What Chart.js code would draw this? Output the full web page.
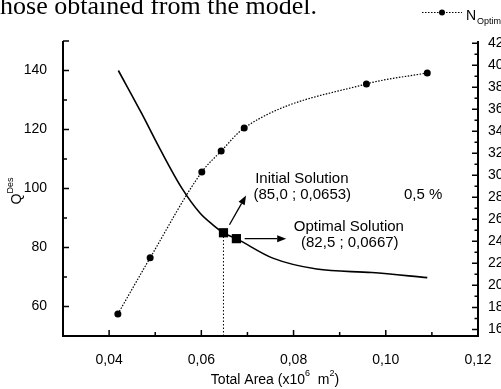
<!DOCTYPE html>
<html>
<head>
<meta charset="utf-8">
<script src="https://cdn.jsdelivr.net/npm/chart.js@4"></script>
<style>
  html, body { margin: 0; padding: 0; background: #fff; }
  #wrap { position: relative; width: 501px; height: 389px; }
</style>
</head>
<body>
<div id="wrap"><canvas id="chart"></canvas></div>
<script>
// ─── DATA ───────────────────────────────────────────────────────────
// Q^Des vs total area (left axis, solid curve)
const qArea = [0.042, 0.047, 0.051, 0.0557, 0.0597, 0.0625, 0.0648, 0.0676, 0.0755, 0.085, 0.097, 0.109];
const qDes  = [140, 125.6, 113.5, 100.3, 91.7, 87.7, 85.0, 83.0, 76.4, 72.7, 71.5, 69.8];

// N_Optim vs total area (right axis, dotted curve with dots)
const nArea  = [0.0419, 0.0489, 0.0601, 0.0643, 0.0693, 0.0958, 0.109];
const nOptim = [17.4, 22.5, 30.3, 32.2, 34.3, 38.3, 39.3];

// initial / optimal solution markers
const solArea = [0.0648, 0.0676];
const solQ    = [85.0, 83.0];

// ticks
const xTicks  = [0.03, 0.04, 0.05, 0.06, 0.07, 0.08, 0.09, 0.10, 0.11, 0.12];
const xLabels = ['', '0,04', '', '0,06', '', '0,08', '', '0,10', '', '0,12'];
const qTicks  = [50, 60, 70, 80, 90, 100, 110, 120, 130, 140, 150];
const qLabels = ['', '60', '', '80', '', '100', '', '120', '', '140', ''];
const nTicks  = [16, 17, 18, 19, 20, 21, 22, 23, 24, 25, 26, 27, 28, 29, 30, 31, 32, 33, 34, 35, 36, 37, 38, 39, 40, 41, 42];
const nLabels = nTicks.map(v => v % 2 === 0 ? String(v) : '');

const FONT = "'Liberation Sans', Arial, sans-serif";

const setTicks = (vals) => (s) => { s.ticks = vals.map(v => ({ value: v })); };
const labelFor = (vals, labels) => (v) => { const i = vals.findIndex(t => Math.abs(t - v) < 1e-9); return i >= 0 ? labels[i] : ''; };

function arrow(ctx, x0, y0, x1, y1) {
  const ang = Math.atan2(y1 - y0, x1 - x0), hl = 9, hw = 3.5;
  ctx.beginPath(); ctx.moveTo(x0, y0);
  ctx.lineTo(x1 - hl * Math.cos(ang), y1 - hl * Math.sin(ang)); ctx.stroke();
  ctx.beginPath(); ctx.moveTo(x1, y1);
  ctx.lineTo(x1 - hl * Math.cos(ang) + hw * Math.sin(ang), y1 - hl * Math.sin(ang) - hw * Math.cos(ang));
  ctx.lineTo(x1 - hl * Math.cos(ang) - hw * Math.sin(ang), y1 - hl * Math.sin(ang) + hw * Math.cos(ang));
  ctx.closePath(); ctx.fill();
}

// draws text pieces in a row; pieces: [text, size, dy]
function richText(ctx, pieces, cx, cy) {
  let w = 0;
  pieces.forEach(p => { ctx.font = p[1] + 'px ' + FONT; w += ctx.measureText(p[0]).width; });
  let xx = cx - w / 2;
  ctx.textAlign = 'left'; ctx.textBaseline = 'middle';
  pieces.forEach(p => { ctx.font = p[1] + 'px ' + FONT; ctx.fillText(p[0], xx, cy + p[2]); xx += ctx.measureText(p[0]).width; });
}

const extras = {
  id: 'extras',
  afterDraw(chart) {
    const { ctx, chartArea: a, scales } = chart;
    const sx = scales.x, sy = scales.y, sr = scales.y1;
    const X = v => sx.getPixelForValue(v), Y = v => sy.getPixelForValue(v);
    ctx.save();
    ctx.strokeStyle = '#000'; ctx.fillStyle = '#000';

    // axis lines (no top frame)
    ctx.lineWidth = 2;
    ctx.beginPath();
    ctx.moveTo(a.left, a.top); ctx.lineTo(a.left, a.bottom);
    ctx.lineTo(a.right, a.bottom); ctx.lineTo(a.right, a.top);
    ctx.stroke();

    // inward ticks, longer at labelled values
    ctx.lineWidth = 1.5;
    ctx.beginPath();
    xTicks.forEach((v, i) => { const p = X(v), l = xLabels[i] ? 6 : 4; ctx.moveTo(p, a.bottom); ctx.lineTo(p, a.bottom - l); });
    qTicks.forEach((v, i) => { const p = Y(v), l = qLabels[i] || v === 150 ? 6 : 4; ctx.moveTo(a.left, p); ctx.lineTo(a.left + l, p); });
    nTicks.forEach((v, i) => { const p = sr.getPixelForValue(v), l = nLabels[i] ? 6 : 3.5; ctx.moveTo(a.right, p); ctx.lineTo(a.right - l, p); });
    ctx.stroke();

    // axis titles
    richText(ctx, [['Total Area (x10', 14, 0], ['6', 9, -6], ['  m', 14, 0], ['2', 9, -6], [')', 14, 0]], 275, 380);
    ctx.save();
    ctx.translate(17, 191); ctx.rotate(-Math.PI / 2);
    richText(ctx, [['Q', 14, 0], ['Des', 9, -6]], 0, 0);
    ctx.restore();

    // annotations
    ctx.lineWidth = 1.3;
    arrow(ctx, X(0.0661), Y(87.7), X(0.0697), Y(97.6));
    arrow(ctx, X(0.0694), Y(83.0), X(0.0784), Y(83.0));
    ctx.font = '15px ' + FONT; ctx.textAlign = 'center'; ctx.textBaseline = 'middle';
    ctx.fillText('Initial Solution', X(0.0818), Y(103.3));
    ctx.fillText('(85,0 ; 0,0653)', X(0.0819), Y(97.9));
    ctx.fillText('Optimal Solution', X(0.0920), Y(87.1));
    ctx.fillText('(82,5 ; 0,0667)', X(0.0922), Y(81.5));
    ctx.fillText('0,5 %', X(0.1081), Y(97.9));

    // legend (top right, cut by the edge)
    ctx.lineWidth = 1; ctx.setLineDash([1.5, 1.5]);
    ctx.beginPath(); ctx.moveTo(422, 12.5); ctx.lineTo(462, 12.5); ctx.stroke();
    ctx.setLineDash([]);
    ctx.beginPath(); ctx.arc(442, 12.5, 3, 0, Math.PI * 2); ctx.fill();
    ctx.textAlign = 'left'; ctx.textBaseline = 'alphabetic';
    ctx.font = '14px ' + FONT; ctx.fillText('N', 466, 19.5);
    ctx.font = '9px ' + FONT; ctx.fillText('Optim', 477, 24);

    // caption fragment above the figure
    ctx.font = "26px 'Liberation Serif', 'Times New Roman', serif";
    ctx.textAlign = 'right';
    ctx.fillText('hose obtained from the model.', 317, 13.5);
    ctx.restore();
  }
};

new Chart(document.getElementById('chart'), {
  type: 'line',
  data: {
    datasets: [
      {
        label: 'Q Des',
        data: qArea.map((x, i) => ({ x, y: qDes[i] })),
        yAxisID: 'y',
        borderColor: '#000', borderWidth: 1.6,
        pointRadius: 0, cubicInterpolationMode: 'monotone'
      },
      {
        label: 'N Optim',
        data: nArea.map((x, i) => ({ x, y: nOptim[i] })),
        yAxisID: 'y1',
        borderColor: '#000', borderWidth: 1.2, borderDash: [1.5, 1.5],
        pointRadius: 3.5, pointBackgroundColor: '#000', pointBorderWidth: 0,
        cubicInterpolationMode: 'monotone'
      },
      {
        label: 'Solutions',
        data: solArea.map((x, i) => ({ x, y: solQ[i] })),
        yAxisID: 'y',
        showLine: false,
        pointStyle: 'rect', pointRadius: 6.5,
        pointBackgroundColor: '#000', pointBorderColor: '#000', pointBorderWidth: 0
      },
      {
        label: 'drop line',
        data: [{ x: solArea[0], y: 50 }, { x: solArea[0], y: solQ[0] }],
        yAxisID: 'y',
        borderColor: '#000', borderWidth: 1, borderDash: [1.5, 2],
        pointRadius: 0
      }
    ]
  },
  options: {
    responsive: true,
    maintainAspectRatio: false,
    animation: false,
    layout: { padding: { top: 41, left: 0, right: 0, bottom: 0 } },
    plugins: { legend: { display: false }, tooltip: { enabled: false } },
    scales: {
      x: {
        type: 'linear', min: 0.03, max: 0.12,
        afterBuildTicks: setTicks(xTicks),
        afterFit: s => { s.height = 53; },
        grid: { display: false }, border: { display: false },
        ticks: { autoSkip: false, maxRotation: 0, padding: 8, color: '#000', font: { family: FONT, size: 14 }, callback: labelFor(xTicks, xLabels) }
      },
      y: {
        position: 'left', min: 50, max: 150,
        afterBuildTicks: setTicks(qTicks),
        afterFit: s => { s.width = 63; },
        grid: { display: false }, border: { display: false },
        ticks: { autoSkip: false, padding: 8, color: '#000', font: { family: FONT, size: 14 }, callback: labelFor(qTicks, qLabels) }
      },
      y1: {
        position: 'right', min: 15.4, max: 42.2,
        afterBuildTicks: setTicks(nTicks),
        afterFit: s => { s.width = 23; },
        grid: { display: false }, border: { display: false },
        ticks: { autoSkip: false, padding: 2, color: '#000', font: { family: FONT, size: 14 }, callback: labelFor(nTicks, nLabels) }
      }
    }
  },
  plugins: [extras]
});
</script>
</body>
</html>
